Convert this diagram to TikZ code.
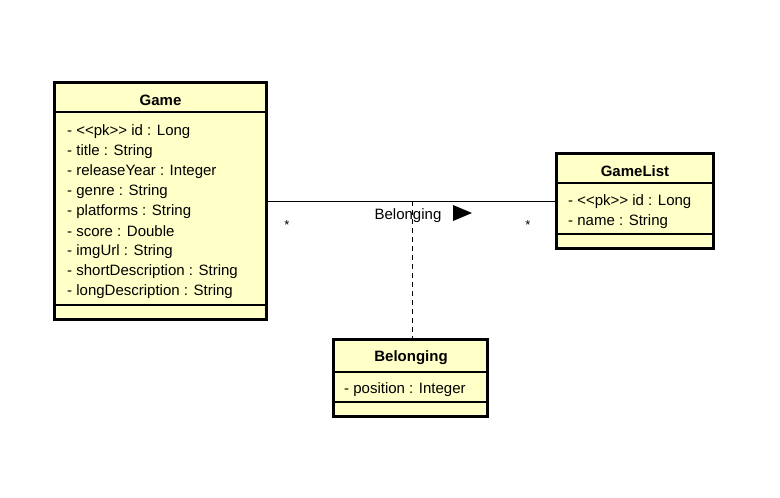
\documentclass[tikz,border=0pt]{standalone}
\usepackage{fontspec}
\setmainfont{Liberation Sans}[Ligatures=TeXOff]
\definecolor{umlfill}{HTML}{FFFFC8}
\begin{document}
\begin{tikzpicture}[x=1pt,y=-1pt,
  umlbox/.style={draw=black, line width=3pt, fill=umlfill, rectangle, anchor=north west, inner sep=0pt, outer sep=0pt},
  sep/.style={line width=1.2pt},
  attr/.style={anchor=west, inner sep=0pt, font=\fontsize{15}{17}\selectfont},
  title/.style={inner sep=0pt, font=\bfseries\fontsize{15}{17}\selectfont},
  assoc/.style={line width=1pt},
  mult/.style={inner sep=0pt, font=\fontsize{13}{15}\selectfont}
]
\useasboundingbox (0,0) rectangle (780,498);
% Game
\node[umlbox, minimum width=212pt, minimum height=237pt] (game) at (54.5,82.5) {};
\draw[sep] (game.west |- 0,112) -- (game.east |- 0,112);
\draw[sep] (game.west |- 0,305) -- (game.east |- 0,305);
\node[title] (gameT) at (160.5,100) {Game};
\node[attr] (g1) at (67,131.5) {- <<pk>> id : Long};
\node[attr] (g2) at (67,151.5) {- title : String};
\node[attr] (g3) at (67,171.5) {- releaseYear : Integer};
\node[attr] (g4) at (67,191.5) {- genre : String};
\node[attr] (g5) at (67,211.5) {- platforms : String};
\node[attr] (g6) at (67,231.5) {- score : Double};
\node[attr] (g7) at (67,251.5) {- imgUrl : String};
\node[attr] (g8) at (67,272) {- shortDescription : String};
\node[attr] (g9) at (67,292) {- longDescription : String};
% GameList
\node[umlbox, minimum width=157pt, minimum height=95pt] (gl) at (556.5,153.5) {};
\draw[sep] (gl.west |- 0,183) -- (gl.east |- 0,183);
\draw[sep] (gl.west |- 0,234) -- (gl.east |- 0,234);
\node[title] (glT) at (635,171) {GameList};
\node[attr] (l1) at (568,202) {- <<pk>> id : Long};
\node[attr] (l2) at (568,221.5) {- name : String};
% Belonging
\node[umlbox, minimum width=154pt, minimum height=77pt] (bel) at (333.5,339.5) {};
\draw[sep] (bel.west |- 0,372) -- (bel.east |- 0,372);
\draw[sep] (bel.west |- 0,402) -- (bel.east |- 0,402);
\node[title] (belT) at (411,358) {Belonging};
\node[attr] (b1) at (344,389.5) {- position : Integer};
% association
\draw[assoc] (game.east) -- (gl.west);
\coordinate (mid) at (412,201);
\draw[assoc, dash pattern=on 5pt off 4pt] (mid) -- (mid |- bel.north);
\node[inner sep=0pt, font=\fontsize{15}{17}\selectfont] (lab) at (408,215.5) {Belonging};
\fill (453,205) -- (472,213) -- (453,221) -- cycle;
\node[mult] (m1) at (287,225) {*};
\node[mult] (m2) at (528,225) {*};
\end{tikzpicture}
\end{document}
